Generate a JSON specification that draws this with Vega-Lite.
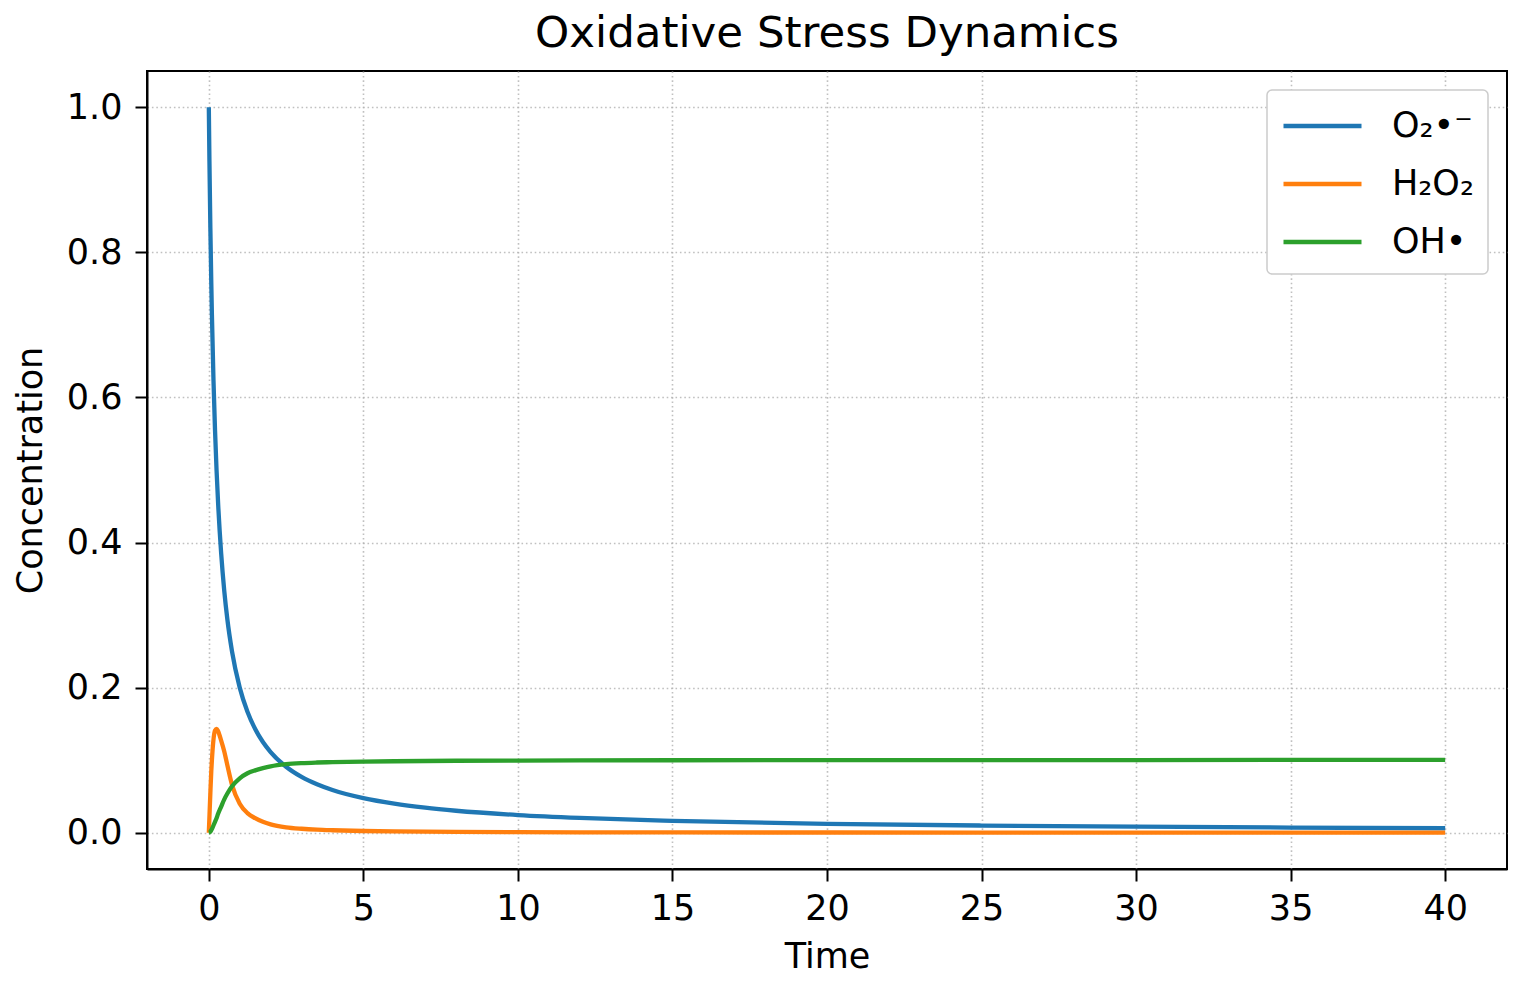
{
  "$schema": "https://vega.github.io/schema/vega-lite/v6.json",
  "autosize": "none",
  "width": 1360,
  "height": 798,
  "padding": {"left": 147, "top": 71, "right": 16, "bottom": 114},
  "background": "white",
  "title": {
    "text": "Oxidative Stress Dynamics",
    "fontSize": 43.5,
    "fontWeight": "normal",
    "font": "DejaVu Sans",
    "color": "black",
    "anchor": "middle",
    "offset": 15
  },
  "data": {
    "values": [
      {"t": 0, "O": 1.0, "H": 0.0, "OH": 0.0},
      {"t": 0.02, "O": 0.9259, "H": 0.022, "OH": 0.0003},
      {"t": 0.05, "O": 0.8333, "H": 0.055, "OH": 0.0015},
      {"t": 0.08, "O": 0.7576, "H": 0.085, "OH": 0.0035},
      {"t": 0.1, "O": 0.7143, "H": 0.1, "OH": 0.005},
      {"t": 0.15, "O": 0.625, "H": 0.128, "OH": 0.01},
      {"t": 0.2, "O": 0.5556, "H": 0.141, "OH": 0.015},
      {"t": 0.25, "O": 0.5, "H": 0.143, "OH": 0.02},
      {"t": 0.3, "O": 0.4545, "H": 0.14, "OH": 0.026},
      {"t": 0.4, "O": 0.3846, "H": 0.127, "OH": 0.036},
      {"t": 0.5, "O": 0.3333, "H": 0.112, "OH": 0.046},
      {"t": 0.6, "O": 0.2941, "H": 0.093, "OH": 0.054},
      {"t": 0.75, "O": 0.25, "H": 0.066, "OH": 0.064},
      {"t": 1, "O": 0.2, "H": 0.04, "OH": 0.075},
      {"t": 1.25, "O": 0.1667, "H": 0.027, "OH": 0.082},
      {"t": 1.5, "O": 0.1429, "H": 0.02, "OH": 0.086},
      {"t": 1.75, "O": 0.125, "H": 0.015, "OH": 0.089},
      {"t": 2, "O": 0.1111, "H": 0.0115, "OH": 0.0915},
      {"t": 2.5, "O": 0.0909, "H": 0.0075, "OH": 0.0945},
      {"t": 3, "O": 0.0769, "H": 0.0055, "OH": 0.096},
      {"t": 3.5, "O": 0.0667, "H": 0.0042, "OH": 0.0968},
      {"t": 4, "O": 0.0588, "H": 0.0034, "OH": 0.0973},
      {"t": 5, "O": 0.0476, "H": 0.0024, "OH": 0.098},
      {"t": 6, "O": 0.04, "H": 0.0018, "OH": 0.0985},
      {"t": 7, "O": 0.0345, "H": 0.0014, "OH": 0.0989},
      {"t": 8, "O": 0.0303, "H": 0.0011, "OH": 0.0992},
      {"t": 10, "O": 0.0244, "H": 0.0008, "OH": 0.0995},
      {"t": 12, "O": 0.0204, "H": 0.0006, "OH": 0.0997},
      {"t": 15, "O": 0.0164, "H": 0.0004, "OH": 0.0999},
      {"t": 20, "O": 0.0123, "H": 0.0003, "OH": 0.1},
      {"t": 25, "O": 0.0099, "H": 0.0002, "OH": 0.1001},
      {"t": 30, "O": 0.0083, "H": 0.00015, "OH": 0.1002},
      {"t": 35, "O": 0.0071, "H": 0.0001, "OH": 0.1003},
      {"t": 40, "O": 0.0062, "H": 0.0001, "OH": 0.1004}
    ]
  },
  "transform": [
    {"fold": ["O", "H", "OH"], "as": ["key", "c"]},
    {
      "calculate": "datum.key == 'O' ? 'O₂•⁻' : datum.key == 'H' ? 'H₂O₂' : 'OH•'",
      "as": "species"
    }
  ],
  "mark": {"type": "line", "strokeWidth": 4.3, "interpolate": "monotone", "clip": true},
  "encoding": {
    "x": {
      "field": "t",
      "type": "quantitative",
      "title": "Time",
      "scale": {"domain": [-2, 42], "nice": false, "zero": false},
      "axis": {"values": [0, 5, 10, 15, 20, 25, 30, 35, 40], "format": "d", "labelPadding": 10, "titlePadding": 13}
    },
    "y": {
      "field": "c",
      "type": "quantitative",
      "title": "Concentration",
      "scale": {"domain": [-0.05, 1.05], "nice": false, "zero": false},
      "axis": {"values": [0, 0.2, 0.4, 0.6, 0.8, 1.0], "format": ".1f", "labelPadding": 13, "titlePadding": 18}
    },
    "color": {
      "field": "species",
      "type": "nominal",
      "scale": {
        "domain": ["O₂•⁻", "H₂O₂", "OH•"],
        "range": ["#1f77b4", "#ff7f0e", "#2ca02c"]
      },
      "legend": {
        "title": null,
        "orient": "top-right",
        "offset": 19,
        "symbolType": "M-1,0H3",
        "symbolSize": 1521,
        "symbolStrokeWidth": 4.3,
        "labelFontSize": 35,
        "labelOffset": 67,
        "rowPadding": 18,
        "padding": 14,
        "strokeColor": "#cccccc",
        "fillColor": "white",
        "cornerRadius": 5
      }
    },
    "order": {"field": "key", "type": "nominal"}
  },
  "config": {
    "font": "DejaVu Sans",
    "view": {"stroke": "black", "strokeWidth": 2},
    "axis": {
      "labelFontSize": 35,
      "titleFontSize": 35,
      "titleFontWeight": "normal",
      "labelColor": "black",
      "titleColor": "black",
      "domainColor": "black",
      "domainWidth": 2,
      "tickColor": "black",
      "tickWidth": 2,
      "tickSize": 12,
      "grid": true,
      "gridColor": "#b0b0b0",
      "gridOpacity": 0.8,
      "gridWidth": 1.6,
      "gridDash": [1.6, 2.8]
    },
    "legend": {"labelColor": "black", "labelFont": "DejaVu Sans", "strokeWidth": 1.5}
  }
}
